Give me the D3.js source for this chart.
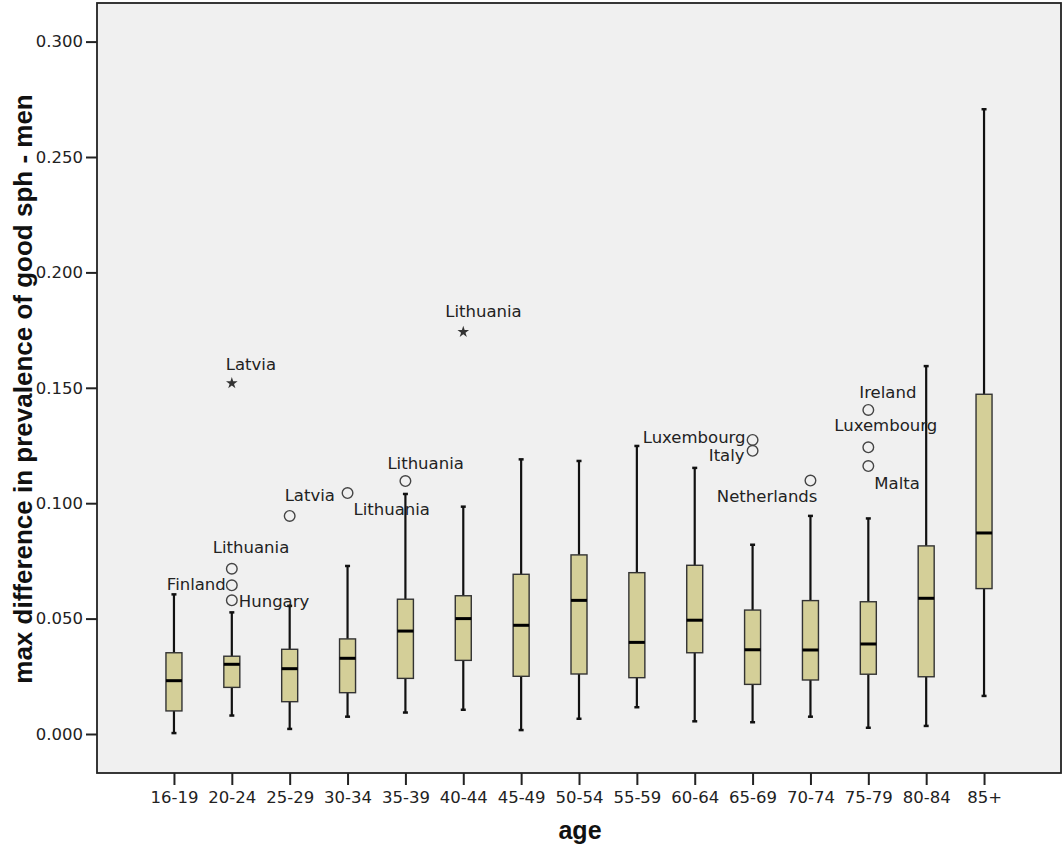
<!DOCTYPE html>
<html>
<head>
<meta charset="utf-8">
<script src="https://cdn.jsdelivr.net/npm/d3@7"></script>
<style>
  html, body { margin: 0; padding: 0; background: #ffffff; }
  svg { display: block; font-family: "DejaVu Sans", Verdana, sans-serif; }
</style>
</head>
<body>
<svg id="chart" width="1064" height="847"></svg>
<script>
// ---- data ----
const ages = ["16-19","20-24","25-29","30-34","35-39","40-44","45-49","50-54","55-59","60-64","65-69","70-74","75-79","80-84","85+"];
const whiskerLow  = [0.0004, 0.0080, 0.0022, 0.0075, 0.0093, 0.0105, 0.0017, 0.0066, 0.0116, 0.0055, 0.0051, 0.0075, 0.0027, 0.0035, 0.0165];
const q1          = [0.0100, 0.0202, 0.0140, 0.0179, 0.0241, 0.0319, 0.0250, 0.0260, 0.0244, 0.0352, 0.0215, 0.0234, 0.0259, 0.0248, 0.0630];
const median      = [0.0231, 0.0302, 0.0283, 0.0328, 0.0446, 0.0500, 0.0471, 0.0579, 0.0397, 0.0493, 0.0365, 0.0364, 0.0390, 0.0588, 0.0871];
const q3          = [0.0352, 0.0337, 0.0367, 0.0412, 0.0584, 0.0599, 0.0692, 0.0776, 0.0699, 0.0731, 0.0537, 0.0578, 0.0573, 0.0815, 0.1472];
const whiskerHigh = [0.0605, 0.0527, 0.0555, 0.0728, 0.1040, 0.0985, 0.1190, 0.1183, 0.1248, 0.1153, 0.0820, 0.0945, 0.0934, 0.1594, 0.2707];

const outlierAge   = ["20-24","20-24","20-24","20-24","25-29","30-34","35-39","40-44","65-69","65-69","70-74","75-79","75-79","75-79"];
const outlierValue = [0.1520, 0.0716, 0.0644, 0.0579, 0.0945, 0.1044, 0.1096, 0.1742, 0.1274, 0.1227, 0.1098, 0.1404, 0.1242, 0.1161];
const outlierName  = ["Latvia","Lithuania","Finland","Hungary","Latvia","Lithuania","Lithuania","Lithuania","Luxembourg","Italy","Netherlands","Ireland","Luxembourg","Malta"];
const outlierKind  = ["extreme","outlier","outlier","outlier","outlier","outlier","outlier","extreme","outlier","outlier","outlier","outlier","outlier","outlier"];

const yTicks = [0, 0.05, 0.10, 0.15, 0.20, 0.25, 0.30];
const xTitle = "age";
const yTitle = "max difference in prevalence of good sph - men";

// ---- layout (label placement relative to the marker) ----
const labelPlacement = [
  {dx: -6,  dy: -13, anchor: "start"},
  {dx: -19, dy: -16, anchor: "start"},
  {dx: -6,  dy: 5,   anchor: "end"},
  {dx: 7,   dy: 7,   anchor: "start"},
  {dx: -5,  dy: -15, anchor: "start"},
  {dx: 6,   dy: 22,  anchor: "start"},
  {dx: -18, dy: -12, anchor: "start"},
  {dx: -18, dy: -15, anchor: "start"},
  {dx: -7,  dy: 3,   anchor: "end"},
  {dx: -8,  dy: 10,  anchor: "end"},
  {dx: 7,   dy: 21,  anchor: "end"},
  {dx: -9,  dy: -12, anchor: "start"},
  {dx: -34, dy: -16, anchor: "start"},
  {dx: 6,   dy: 23,  anchor: "start"}
];

const boxes = ages.map((a, i) => ({age: a, lo: whiskerLow[i], q1: q1[i], med: median[i], q3: q3[i], hi: whiskerHigh[i]}));
const outliers = outlierAge.map((a, i) => ({age: a, v: outlierValue[i], name: outlierName[i], kind: outlierKind[i], pl: labelPlacement[i]}));

const svg = d3.select("#chart");
const plot = {left: 97, right: 1061, top: 3, bottom: 773};

const x = d3.scalePoint().domain(ages).range([plot.left, plot.right]).padding(1.33);
const pxPerUnit = 2308;
const y = d3.scaleLinear()
  .domain([-(plot.bottom - 734) / pxPerUnit, (734 - plot.top) / pxPerUnit])
  .range([plot.bottom, plot.top]);

// plot background
svg.append("rect")
  .attr("x", plot.left).attr("y", plot.top)
  .attr("width", plot.right - plot.left).attr("height", plot.bottom - plot.top)
  .attr("fill", "#f0f0f0");

// axes
const yAxis = d3.axisLeft(y).tickValues(yTicks).tickFormat(d3.format(".3f")).tickSize(11).tickPadding(3);
const gy = svg.append("g").attr("transform", `translate(${plot.left},0)`).call(yAxis);
const xAxis = d3.axisBottom(x).tickSize(12).tickPadding(6);
const gx = svg.append("g").attr("transform", `translate(0,${plot.bottom})`).call(xAxis);
[gy, gx].forEach(g => {
  g.select(".domain").remove();
  g.selectAll(".tick line").attr("stroke", "#222").attr("stroke-width", 2);
  g.selectAll(".tick text").attr("fill", "#222").style("font-size", "16.5px")
    .style("font-family", "'DejaVu Sans', Verdana, sans-serif");
});

// boxes
const bw = 16;
const gb = svg.append("g");
boxes.forEach(b => {
  const cx = x(b.age);
  gb.append("line").attr("x1", cx).attr("x2", cx).attr("y1", y(b.q3)).attr("y2", y(b.hi))
    .attr("stroke", "#111").attr("stroke-width", 2.2);
  gb.append("line").attr("x1", cx).attr("x2", cx).attr("y1", y(b.q1)).attr("y2", y(b.lo))
    .attr("stroke", "#111").attr("stroke-width", 2.2);
  [b.hi, b.lo].forEach(v => {
    gb.append("line").attr("x1", cx - 2.5).attr("x2", cx + 2.5).attr("y1", y(v)).attr("y2", y(v))
      .attr("stroke", "#111").attr("stroke-width", 2.5);
  });
  gb.append("rect").attr("x", cx - bw / 2).attr("y", y(b.q3))
    .attr("width", bw).attr("height", y(b.q1) - y(b.q3))
    .attr("fill", "#d4cf98").attr("stroke", "#333").attr("stroke-width", 1.4);
  gb.append("line").attr("x1", cx - bw / 2).attr("x2", cx + bw / 2).attr("y1", y(b.med)).attr("y2", y(b.med))
    .attr("stroke", "#000").attr("stroke-width", 3);
});

// outliers
const go = svg.append("g");
outliers.forEach(o => {
  const cx = x(o.age), cy = y(o.v);
  if (o.kind === "outlier") {
    go.append("circle").attr("cx", cx).attr("cy", cy).attr("r", 5.3)
      .attr("fill", "none").attr("stroke", "#444").attr("stroke-width", 1.4);
  } else {
    go.append("path").attr("d", d3.symbol(d3.symbolStar, 42)())
      .attr("transform", `translate(${cx},${cy})`).attr("fill", "#333");
  }
  go.append("text").attr("x", cx + o.pl.dx).attr("y", cy + o.pl.dy)
    .attr("text-anchor", o.pl.anchor).attr("fill", "#222")
    .style("font-size", "16.5px").text(o.name);
});

// frame
svg.append("rect")
  .attr("x", plot.left).attr("y", plot.top)
  .attr("width", plot.right - plot.left).attr("height", plot.bottom - plot.top)
  .attr("fill", "none").attr("stroke", "#222").attr("stroke-width", 1.8);

// titles
svg.append("text").attr("x", 580).attr("y", 839)
  .attr("text-anchor", "middle").attr("fill", "#111")
  .style("font-family", "'Liberation Sans', Arial, sans-serif")
  .style("font-size", "25px").style("font-weight", "bold").text(xTitle);
svg.append("text")
  .attr("transform", `translate(32,389) rotate(-90)`)
  .attr("text-anchor", "middle").attr("fill", "#111")
  .style("font-family", "'Liberation Sans', Arial, sans-serif")
  .style("font-size", "26px").style("font-weight", "bold").text(yTitle);
</script>
</body>
</html>
